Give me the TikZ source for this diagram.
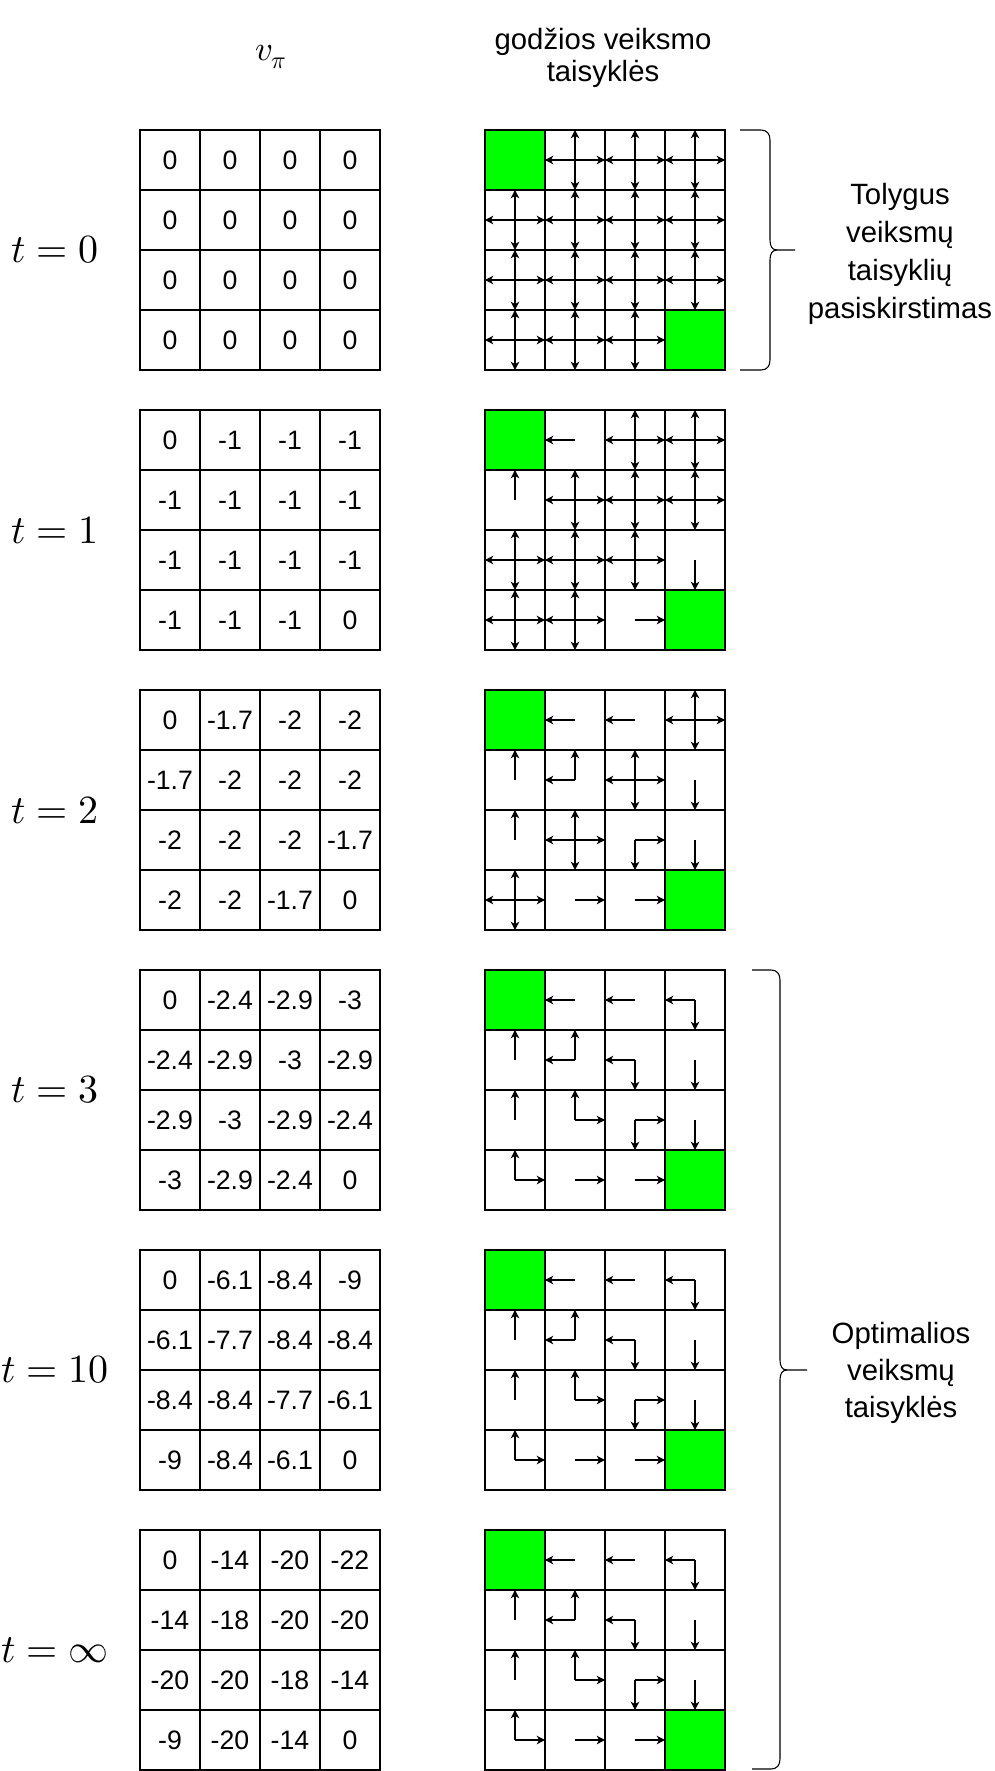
\documentclass[tikz,border=0pt]{standalone}
\usepackage{fontspec}
\usepackage{unicode-math}
\setmainfont{Liberation Sans}
\setmathfont{Latin Modern Math}
\usetikzlibrary{arrows.meta}
\definecolor{tgreen}{HTML}{00FF00}

% policy codes: angle anchors of the cell border (-1 = terminal, green)
\newcommand\pG{-1}
\newcommand\pA{90,270,0,180}
\newcommand\pL{180}
\newcommand\pU{90}
\newcommand\pD{270}
\newcommand\pR{0}
\newcommand\pLU{180,90}
\newcommand\pLD{180,270}
\newcommand\pUR{90,0}
\newcommand\pRD{0,270}

\edef\polzero{{\pG},{\pA},{\pA},{\pA},{\pA},{\pA},{\pA},{\pA},{\pA},{\pA},{\pA},{\pA},{\pA},{\pA},{\pA},{\pG}}
\edef\polone{{\pG},{\pL},{\pA},{\pA},{\pU},{\pA},{\pA},{\pA},{\pA},{\pA},{\pA},{\pD},{\pA},{\pA},{\pR},{\pG}}
\edef\poltwo{{\pG},{\pL},{\pL},{\pA},{\pU},{\pLU},{\pA},{\pD},{\pU},{\pA},{\pRD},{\pD},{\pA},{\pR},{\pR},{\pG}}
\edef\polopt{{\pG},{\pL},{\pL},{\pLD},{\pU},{\pLU},{\pLD},{\pD},{\pU},{\pUR},{\pRD},{\pD},{\pUR},{\pR},{\pR},{\pG}}

\tikzset{
  gridline/.style={line width=0.8pt},
  vcell/.style={gridline, draw, minimum width=45pt, minimum height=45pt, inner sep=0pt, outer sep=0pt, font=\fontsize{20}{24}\selectfont},
  pcell/.style={gridline, draw, minimum width=45pt, minimum height=45pt, inner sep=0pt, outer sep=0pt},
  arr/.style={line width=0.8pt, -{Stealth[length=6.2pt,width=6.4pt,inset=1.8pt]}},
  tlab/.style={font=\fontsize{30}{36}\selectfont, inner sep=0pt},
  hlab/.style={font=\fontsize{26}{30}\selectfont, inner sep=0pt},
  lab/.style={align=center, inner sep=0pt},
  bracestyle/.style={line width=0.8pt},
}

\newcommand\valgrid[3]{%
  \foreach \v [count=\i from 0] in {#3} {%
    \pgfmathtruncatemacro\myr{\i/4}%
    \pgfmathtruncatemacro\myc{\i-4*\myr}%
    \node[vcell] (#1-\myr-\myc) at ({170+60*\myc},{#2+30+60*\myr}) {\v};
  }%
}

\newcommand\polgrid[3]{%
  \foreach \p [count=\i from 0] in #3 {%
    \pgfmathtruncatemacro\myr{\i/4}%
    \pgfmathtruncatemacro\myc{\i-4*\myr}%
    \node[pcell] (#1-\myr-\myc) at ({515+60*\myc},{#2+30+60*\myr}) {};
    \foreach \d in \p {%
      \ifnum\d<0
        \draw[gridline, fill=tgreen] (#1-\myr-\myc.north west) rectangle (#1-\myr-\myc.south east);
      \else
        \draw[arr] (#1-\myr-\myc.center) -- (#1-\myr-\myc.\d);
      \fi
    }%
  }%
}

\begin{document}
\begin{tikzpicture}[x=0.75pt, y=-0.75pt]
\useasboundingbox (0,0) rectangle (995,1771);

% headers
\node[hlab] (hv) at (271,57) {$v_\pi$};
\node[lab, font=\fontsize{22}{24}\selectfont] (hg) at (603,58) {godžios veiksmo\\taisyklės};

% t labels
\node[tlab] (t0) at (55,250) {$t=0$};
\node[tlab] (t1) at (55,530) {$t=1$};
\node[tlab] (t2) at (55,810) {$t=2$};
\node[tlab] (t3) at (55,1090) {$t=3$};
\node[tlab] (t10) at (55,1370) {$t=10$};
\node[tlab] (tinf) at (55,1650) {$t=\infty$};

% value grids
\valgrid{V0}{130}{0,0,0,0,0,0,0,0,0,0,0,0,0,0,0,0}
\valgrid{V1}{410}{0,-1,-1,-1,-1,-1,-1,-1,-1,-1,-1,-1,-1,-1,-1,0}
\valgrid{V2}{690}{0,-1.7,-2,-2,-1.7,-2,-2,-2,-2,-2,-2,-1.7,-2,-2,-1.7,0}
\valgrid{V3}{970}{0,-2.4,-2.9,-3,-2.4,-2.9,-3,-2.9,-2.9,-3,-2.9,-2.4,-3,-2.9,-2.4,0}
\valgrid{V4}{1250}{0,-6.1,-8.4,-9,-6.1,-7.7,-8.4,-8.4,-8.4,-8.4,-7.7,-6.1,-9,-8.4,-6.1,0}
\valgrid{V5}{1530}{0,-14,-20,-22,-14,-18,-20,-20,-20,-20,-18,-14,-9,-20,-14,0}

% policy grids
\polgrid{P0}{130}{\polzero}
\polgrid{P1}{410}{\polone}
\polgrid{P2}{690}{\poltwo}
\polgrid{P3}{970}{\polopt}
\polgrid{P4}{1250}{\polopt}
\polgrid{P5}{1530}{\polopt}

% brace 1
\draw[bracestyle] (740,130) -- (761,130) .. controls (767,130) and (770,134) .. (770,140)
  -- (770,240) .. controls (770,246) and (772,250) .. (777,250) -- (795,250);
\draw[bracestyle] (777,250) .. controls (772,250) and (770,254) .. (770,260)
  -- (770,360) .. controls (770,366) and (767,370) .. (761,370) -- (740,370);
\node[lab, font=\fontsize{22}{28.5}\selectfont] (b1t) at (900,254) {Tolygus\\veiksmų\\taisyklių\\pasiskirstimas};

% brace 2
\draw[bracestyle] (752,970) -- (771,970) .. controls (777,970) and (780,974) .. (780,980)
  -- (780,1360) .. controls (780,1366) and (782,1370) .. (787,1370) -- (807,1370);
\draw[bracestyle] (787,1370) .. controls (782,1370) and (780,1374) .. (780,1380)
  -- (780,1759) .. controls (780,1765) and (777,1769) .. (771,1769) -- (752,1769);
\node[lab, font=\fontsize{22}{28}\selectfont] (b2t) at (901,1373) {Optimalios\\veiksmų\\taisyklės};
\end{tikzpicture}
\end{document}
